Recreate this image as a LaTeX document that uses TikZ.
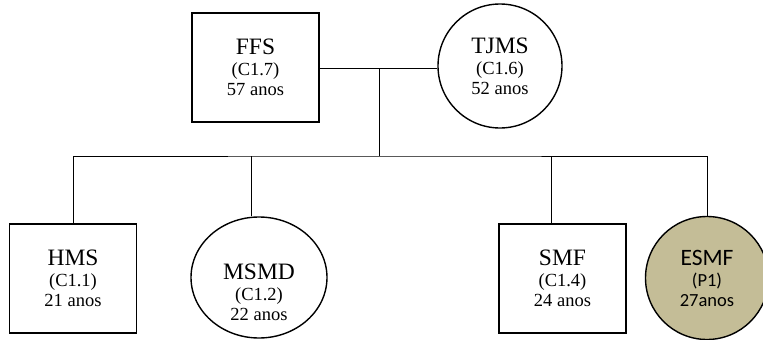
\documentclass[tikz,border=0pt]{standalone}
\usepackage{fontspec}
\setmainfont{Liberation Serif}
\newfontfamily\calibri{Carlito}
\usetikzlibrary{positioning,shapes.geometric}
\definecolor{TanFill}{HTML}{C4BD97}
\newcommand\nome[1]{{\fontsize{23.5}{24}\selectfont #1}\\[1pt]}

\begin{document}
\begin{tikzpicture}[x=1pt,y=-1pt,
  every node/.style={align=center,font=\fontsize{18.5}{20}\selectfont},
  homem/.style={draw,line width=1.8pt,minimum width=127pt,minimum height=109pt},
  mulher/.style={draw,ellipse,line width=1.4pt,inner sep=0pt},
  linha/.style={line width=0.9pt}]
  \useasboundingbox (0,0) rectangle (763,340);
  % pais
  \node[homem] (ffs) at (255.5,67.5) {\nome{FFS}(C1.7)\\57 anos};
  \node[mulher,minimum width=124pt,minimum height=124pt] (tjms) at (500,66) {\nome{TJMS}(C1.6)\\52 anos};
  % filhos
  \node[homem] (hms) at (73,278.5) {\nome{HMS}(C1.1)\\21 anos};
  \node[mulher,minimum width=136pt,minimum height=121pt] (msmd) at (259,277.5) {};
  \node (msmdtxt) at (259,292) {\nome{MSMD}(C1.2)\\22 anos};
  \node[homem] (smf) at (562.5,278.5) {\nome{SMF}(C1.4)\\24 anos};
  \node[mulher,fill=TanFill,minimum width=123pt,minimum height=123pt,font=\calibri\fontsize{18.5}{20}\selectfont] (esmf) at (707,278) {\nome{ESMF}(P1)\\27anos};
  % ligacoes
  \coordinate (casal) at (379,68);
  \coordinate (filhos) at (379,156);
  \draw[linha] (ffs.east |- casal) -- (tjms.west |- casal);
  \draw[linha] (casal) -- (filhos);
  \draw[linha] (hms.north) |- (filhos) -| (esmf.north);
  \draw[linha] ([xshift=-8pt]msmd.north) -- ([xshift=-8pt]msmd.north |- filhos);
  \draw[linha] ([xshift=-11pt]smf.north) -- ([xshift=-11pt]smf.north |- filhos);
\end{tikzpicture}
\end{document}
